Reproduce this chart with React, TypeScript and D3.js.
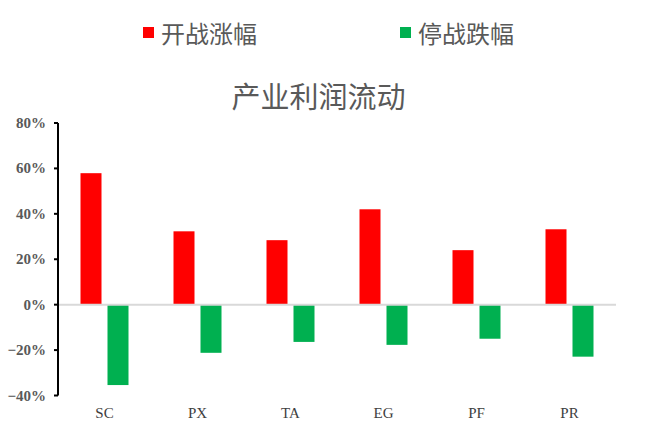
import * as d3 from "d3";

const categories = ["SC", "PX", "TA", "EG", "PF", "PR"];
const riseValues = [57.9, 32.3, 28.4, 42.0, 24.0, 33.2];
const fallValues = [-35.4, -21.2, -16.4, -17.7, -15.0, -22.9];
const yTicks = [80, 60, 40, 20, 0, -20, -40];
const seriesNames = ["开战涨幅", "停战跌幅"];
const seriesColors = ["#ff0000", "#00b050"];

const W = 650;
const H = 426;
const left = 58;
const right = 616;
const top = 123;
const bottom = 395.5;

const cjk = "'Noto Sans CJK SC', sans-serif";
const serif = "'Liberation Serif', 'Times New Roman', serif";

export default function App() {
  const x = d3.scaleBand<string>().domain(categories).range([left, right]);
  const y = d3.scaleLinear().domain([-40, 80]).range([bottom, top]);
  const barW = 21;
  const gap = 6;
  const series = [riseValues, fallValues];

  return (
    <svg
      width={W}
      height={H}
      style={{ position: "absolute", left: 0, top: 0, background: "#fff" }}
    >
      {/* legend */}
      {seriesNames.map((name, i) => {
        const lx = i === 0 ? 143 : 400;
        return (
          <g key={name}>
            <rect x={lx} y={27} width={11} height={11} fill={seriesColors[i]} />
            <text
              x={lx + 18}
              y={32}
              dominantBaseline="central"
              fontFamily={cjk}
              fontSize={24}
              fill="#595959"
            >
              {name}
            </text>
          </g>
        );
      })}

      {/* title */}
      <text
        x={318.5}
        y={95}
        textAnchor="middle"
        dominantBaseline="central"
        fontFamily={cjk}
        fontSize={29}
        fill="#595959"
      >
        产业利润流动
      </text>

      {/* bars */}
      {series.map((vals, si) =>
        vals.map((v, i) => {
          const c = x(categories[i])! + x.bandwidth() / 2;
          const bx = si === 0 ? c - gap / 2 - barW : c + gap / 2;
          return (
            <rect
              key={`${si}-${i}`}
              x={bx}
              y={Math.min(y(v), y(0))}
              width={barW}
              height={Math.abs(y(v) - y(0))}
              fill={seriesColors[si]}
            />
          );
        }),
      )}

      {/* zero line */}
      <line x1={left} x2={right} y1={y(0)} y2={y(0)} stroke="#d9d9d9" strokeWidth={2} />

      {/* y axis */}
      <line x1={left} x2={left} y1={top} y2={bottom} stroke="#000" strokeWidth={2} />
      {yTicks.map((t) => (
        <g key={t}>
          <line x1={left - 4} x2={left} y1={y(t)} y2={y(t)} stroke="#000" strokeWidth={2} />
          <text
            x={46}
            y={y(t)}
            textAnchor="end"
            dominantBaseline="central"
            fontFamily={serif}
            fontWeight="bold"
            fontSize={15}
            fill="#595959"
          >
            {t < 0 ? `\u2212${Math.abs(t)}%` : `${t}%`}
          </text>
        </g>
      ))}

      {/* x labels */}
      {categories.map((c) => (
        <text
          key={c}
          x={x(c)! + x.bandwidth() / 2}
          y={413}
          textAnchor="middle"
          dominantBaseline="central"
          fontFamily={serif}
          fontSize={15}
          fill="#404040"
        >
          {c}
        </text>
      ))}
    </svg>
  );
}
